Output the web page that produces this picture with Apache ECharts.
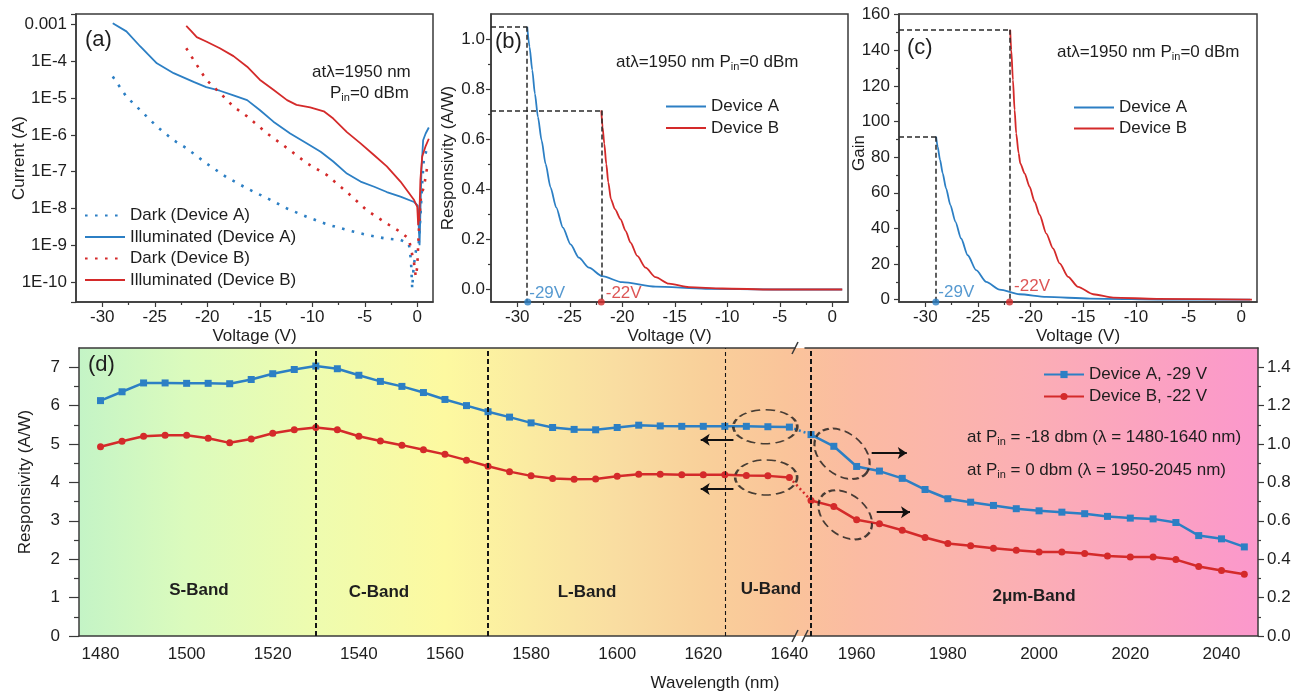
<!DOCTYPE html>
<html>
<head>
<meta charset="utf-8">
<title>Responsivity and gain</title>
<script src="https://cdn.jsdelivr.net/npm/echarts@6.0.0/dist/echarts.min.js"></script>
<style>
  html, body { margin: 0; padding: 0; background: #fff; }
  #chart { width: 1303px; height: 694px; }
</style>
</head>
<body>
<div id="chart"></div>
<script>
// (a) current vs voltage
const vDarkA = [-29.0, -27.7, -26.4, -24.8, -23.2, -22.0, -20.1, -18.2, -16.2, -14.3, -12.4, -10.5, -8.6, -6.7, -4.8, -2.9, -1.6, -0.8, -0.6, -0.48, -0.35, -0.1, 0.14, 0.3, 0.47, 0.62, 0.9];
const iDarkA = [3.9e-5, 1.1e-5, 4.8e-6, 1.7e-6, 7.2e-7, 4.4e-7, 1.7e-7, 7.2e-8, 3.5e-8, 1.9e-8, 1.0e-8, 5.9e-9, 3.7e-9, 2.6e-9, 1.9e-9, 1.5e-9, 1.4e-9, 1.1e-9, 4.0e-10, 6.6e-11, 2.5e-10, 7.9e-10, 1.1e-9, 5.9e-9, 4.9e-8, 2.1e-7, 4.0e-7];
const vIllumA = [-29.0, -27.7, -26.4, -24.8, -23.2, -21.3, -20.1, -18.8, -17.5, -16.2, -15.0, -13.7, -12.1, -10.5, -9.2, -8.0, -6.7, -5.4, -4.1, -2.9, -1.6, -0.3, 0.05, 0.15, 0.22, 0.3, 0.4, 0.56, 0.8, 1.1];
const iIllumA = [1.1e-3, 6.6e-4, 2.6e-4, 8.9e-5, 4.8e-5, 2.8e-5, 2.0e-5, 1.6e-5, 1.2e-5, 8.9e-6, 4.8e-6, 2.3e-6, 1.1e-6, 5.9e-7, 3.5e-7, 1.9e-7, 8.9e-8, 5.4e-8, 3.9e-8, 2.8e-8, 2.1e-8, 1.5e-8, 1.2e-8, 3.0e-9, 1.0e-9, 8.0e-9, 1.1e-7, 7.2e-7, 1.1e-6, 1.6e-6];
const vDarkB = [-22.0, -21.3, -20.1, -18.8, -17.5, -16.2, -14.3, -12.4, -10.5, -8.6, -6.7, -4.8, -2.9, -1.6, -0.8, -0.3, -0.14, 0.0, 0.15, 0.32, 0.48, 0.64, 0.96];
const iDarkB = [2.3e-4, 1.1e-4, 3.2e-5, 1.4e-5, 5.9e-6, 3.2e-6, 1.1e-6, 4.4e-7, 1.7e-7, 8.1e-8, 2.8e-8, 8.9e-9, 3.9e-9, 2.3e-9, 1.5e-9, 3.2e-10, 1.4e-10, 2.6e-10, 2.5e-9, 1.7e-8, 2.8e-8, 3.9e-8, 1.4e-7];
const vIllumB = [-22.0, -21.5, -21.0, -20.1, -18.8, -17.5, -16.2, -15.0, -13.7, -12.4, -11.5, -10.2, -8.9, -8.0, -6.7, -5.4, -4.1, -2.9, -1.6, -0.3, 0.0, 0.09, 0.2, 0.3, 0.47, 0.8, 1.1];
const iIllumB = [9.3e-4, 6.6e-4, 4.6e-4, 3.5e-4, 2.3e-4, 1.4e-4, 7.2e-5, 3.2e-5, 1.7e-5, 8.9e-6, 6.6e-6, 5.6e-6, 4.4e-6, 2.8e-6, 1.2e-6, 5.9e-7, 2.8e-7, 1.4e-7, 5.4e-8, 1.7e-8, 1.1e-8, 3.5e-9, 6.3e-9, 5.9e-8, 2.6e-7, 5.0e-7, 7.9e-7];

// (b) responsivity vs voltage
const vRespA = [-29.05, -28.83, -28.57, -28.32, -28.03, -27.68, -27.3, -26.83, -26.29, -25.65, -24.92, -24.13, -23.17, -21.9, -20.0, -16.83, -12.06, -5.71, 0.95];
const respA = [1.049, 0.969, 0.876, 0.782, 0.689, 0.595, 0.501, 0.408, 0.328, 0.247, 0.18, 0.127, 0.087, 0.053, 0.029, 0.011, 0.003, 0.0, 0.0];
const vRespB = [-22.0, -21.87, -21.71, -21.52, -21.33, -21.08, -20.7, -20.16, -19.68, -19.21, -18.57, -17.78, -16.83, -15.56, -13.65, -10.48, -5.71, 0.95];
const respB = [0.715, 0.648, 0.582, 0.501, 0.428, 0.361, 0.321, 0.281, 0.234, 0.187, 0.134, 0.087, 0.049, 0.023, 0.009, 0.004, 0.0, 0.0];

// (c) gain vs voltage
const vGainA = [-28.98, -28.83, -28.6, -28.35, -28.03, -27.62, -27.14, -26.6, -25.97, -25.17, -24.22, -22.95, -21.05, -18.51, -14.38, -6.44, 0.86];
const gainA = [91.5, 85.9, 78.4, 70.9, 62.5, 53.1, 43.7, 34.3, 24.9, 16.5, 9.9, 5.6, 3.0, 1.5, 0.6, 0, 0];
const vGainB = [-21.94, -21.84, -21.68, -21.52, -21.37, -21.14, -20.98, -20.57, -20.1, -19.62, -19.14, -18.51, -17.87, -17.24, -16.44, -15.49, -14.06, -12.16, -8.03, 1.02];
const gainB = [151.6, 140.3, 123.4, 106.5, 93.4, 82.2, 76.5, 70.9, 63.4, 55.0, 47.5, 37.1, 28.7, 20.3, 12.8, 7.1, 3.0, 1.1, 0.4, 0];

const bias = [-29, -22];

// (d) responsivity vs wavelength
const wlLeft = [1480, 1485, 1490, 1495, 1500, 1505, 1510, 1515, 1520, 1525, 1530, 1535, 1540, 1545, 1550, 1555, 1560, 1565, 1570, 1575, 1580, 1585, 1590, 1595, 1600, 1605, 1610, 1615, 1620, 1625, 1630, 1635, 1640];
const respALeft = [6.13, 6.36, 6.59, 6.59, 6.58, 6.58, 6.57, 6.68, 6.83, 6.94, 7.03, 6.96, 6.79, 6.63, 6.50, 6.34, 6.16, 6.00, 5.84, 5.70, 5.55, 5.43, 5.38, 5.37, 5.43, 5.49, 5.47, 5.46, 5.46, 5.46, 5.46, 5.45, 5.44];
const respBLeft = [4.93, 5.07, 5.20, 5.23, 5.23, 5.15, 5.03, 5.13, 5.28, 5.37, 5.43, 5.37, 5.20, 5.08, 4.97, 4.85, 4.73, 4.58, 4.42, 4.28, 4.17, 4.10, 4.08, 4.09, 4.16, 4.21, 4.21, 4.20, 4.20, 4.20, 4.18, 4.17, 4.13];
const wlRight = [1950, 1955, 1960, 1965, 1970, 1975, 1980, 1985, 1990, 1995, 2000, 2005, 2010, 2015, 2020, 2025, 2030, 2035, 2040, 2045];
const respARight = [1.049, 0.988, 0.883, 0.859, 0.821, 0.763, 0.715, 0.697, 0.680, 0.663, 0.652, 0.645, 0.637, 0.623, 0.614, 0.610, 0.591, 0.523, 0.506, 0.464];
const respBRight = [0.706, 0.675, 0.605, 0.584, 0.551, 0.513, 0.482, 0.470, 0.457, 0.447, 0.438, 0.437, 0.430, 0.417, 0.412, 0.412, 0.398, 0.362, 0.341, 0.322];
const bandEdges = [1530, 1570, 1625];
const bandNames = ['S-Band', 'C-Band', 'L-Band', 'U-Band', '2μm-Band'];

// tick values
const currentTicks = [1e-10, 1e-9, 1e-8, 1e-7, 1e-6, 1e-5, 1e-4, 1e-3];
const voltTicks = [-30, -25, -20, -15, -10, -5, 0];
const voltMinor = [-27.5, -22.5, -17.5, -12.5, -7.5, -2.5];
const respTicks = [0, 0.2, 0.4, 0.6, 0.8, 1.0];
const respMinor = [0.1, 0.3, 0.5, 0.7, 0.9];
const gainTicks = [0, 20, 40, 60, 80, 100, 120, 140, 160];
const gainMinor = [10, 30, 50, 70, 90, 110, 130, 150];
const wlTicksLeft = [1480, 1500, 1520, 1540, 1560, 1580, 1600, 1620, 1640];
const wlTicksRight = [1960, 1980, 2000, 2020, 2040];
const respDTicks = [0, 1, 2, 3, 4, 5, 6, 7];
const respDMinor = [0.5, 1.5, 2.5, 3.5, 4.5, 5.5, 6.5];
const respDRTicks = [0, 0.2, 0.4, 0.6, 0.8, 1.0, 1.2, 1.4];
const respDRMinor = [0.1, 0.3, 0.5, 0.7, 0.9, 1.1, 1.3];

const FONT = '"Liberation Sans", Arial, Helvetica, sans-serif';
const BLUE = '#2c7fc4';
const RED = '#d42a2a';
const INK = '#1e1e1e';
const FRAME = '#3a3a3a';

// plot boxes: left, top, width, height
const boxA = [76, 14, 357, 288];
const boxB = [491, 14, 357, 288];
const boxC = [899, 14, 358, 288];
const boxDL = [79, 348, 716, 288];
const boxDR = [805, 348, 453, 288];

function pairs(xs, ys) { return xs.map((x, i) => [x, ys[i]]); }

function grid(box, framed) {
  return {
    left: box[0], top: box[1], width: box[2], height: box[3],
    containLabel: false, outerBoundsMode: 'none',
    show: framed, borderColor: FRAME, borderWidth: framed ? 1.5 : 0, backgroundColor: 'transparent'
  };
}

function axis(gridIndex, min, max, ticks, o) {
  o = o || {};
  return {
    type: 'value', gridIndex, min, max, position: o.position,
    name: o.name, nameLocation: 'middle', nameGap: o.nameGap, nameMoveOverlap: false,
    nameTextStyle: { color: INK, fontSize: 17, fontFamily: FONT, padding: o.namePad || 0 },
    axisLine: { show: o.line !== false, onZero: false, lineStyle: { color: FRAME, width: 1.5 } },
    axisTick: { show: !!o.tickLen, customValues: ticks || undefined, length: o.tickLen || 0, lineStyle: { color: FRAME, width: 1.2 } },
    axisLabel: { show: o.labels !== false, customValues: ticks || undefined, margin: o.margin || 8, color: INK, fontSize: 17, fontFamily: FONT, formatter: o.fmt || (v => String(v)) },
    splitLine: { show: false }
  };
}

// minor ticks live on their own overlay grid so they can sit on the same side as the main axis
function minor(gridIndex, min, max, ticks, len, position) {
  return axis(gridIndex, min, max, ticks, { line: false, labels: false, tickLen: len, position });
}
function hidden(gridIndex) {
  return { type: 'value', gridIndex, min: 0, max: 1, show: false };
}

const fixed1 = v => v.toFixed(1);

function decadeLabel(v) {
  const hit = currentTicks.find(t => Math.abs(Math.log10(v) - Math.log10(t)) < 1e-6);
  if (hit === undefined) return '';
  const e = Math.round(Math.log10(hit));
  return e === -3 ? '0.001' : '1E' + e;
}

const xAxes = [
  axis(0, -32.5, 1.5, voltTicks, { name: 'Voltage (V)', nameGap: 26, tickLen: 5, margin: 7 }),
  axis(1, -32.5, 1.5, voltTicks, { name: 'Voltage (V)', nameGap: 26, tickLen: 5, margin: 7 }),
  axis(2, -32.5, 1.5, voltTicks, { name: 'Voltage (V)', nameGap: 26, tickLen: 5, margin: 7 }),
  axis(3, 1475, 1641.3, wlTicksLeft, { margin: 10, position: 'bottom' }),
  axis(3, 1475, 1641.3, null, { position: 'top', labels: false }),
  axis(4, 1948.68, 2048, wlTicksRight, { margin: 10, position: 'bottom' }),
  axis(4, 1948.68, 2048, null, { position: 'top', labels: false }),
  minor(5, -32.5, 1.5, voltMinor, 3, 'bottom'),
  minor(6, -32.5, 1.5, voltMinor, 3, 'bottom'),
  minor(7, -32.5, 1.5, voltMinor, 3, 'bottom'),
  hidden(8),
  hidden(9)
];

const yAxes = [
  {
    type: 'log', logBase: 10, gridIndex: 0, min: 2.85e-11, max: 1.96e-3,
    name: 'Current (A)', nameLocation: 'middle', nameGap: 48, nameMoveOverlap: false,
    nameTextStyle: { color: INK, fontSize: 17, fontFamily: FONT },
    axisLine: { show: true, onZero: false, lineStyle: { color: FRAME, width: 1.5 } },
    axisTick: { show: true, length: 5, lineStyle: { color: FRAME, width: 1.2 } },
    axisLabel: { margin: 9, color: INK, fontSize: 17, fontFamily: FONT, formatter: decadeLabel },
    splitLine: { show: false }
  },
  axis(1, -0.05, 1.1, respTicks, { name: 'Responsivity (A/W)', nameGap: 34, tickLen: 5, margin: 6, fmt: fixed1 }),
  axis(2, -1.35, 160.4, gainTicks, { name: 'Gain', nameGap: 31, namePad: [0, 0, 0, 10], tickLen: 5, margin: 9 }),
  axis(3, 0, 7.5, respDTicks, { name: 'Responsivity (A/W)', nameGap: 45, namePad: [0, 0, 0, 20], tickLen: 10, margin: 19, position: 'left' }),
  axis(4, 0, 1.5, respDRTicks, { position: 'right', tickLen: 6, margin: 9, fmt: fixed1 }),
  hidden(5),
  minor(6, -0.05, 1.1, respMinor, 3, 'left'),
  minor(7, -1.35, 160.4, gainMinor, 3, 'left'),
  minor(8, 0, 7.5, respDMinor, 5, 'left'),
  minor(9, 0, 1.5, respDRMinor, 3, 'right')
];

function curve(name, xi, yi, data, color, style) {
  return {
    name, type: 'line', xAxisIndex: xi, yAxisIndex: yi, data,
    symbol: 'none', silent: true, smooth: style === 'smooth' ? 0.25 : false, smoothMonotone: 'x',
    itemStyle: { color },
    lineStyle: style === 'dots'
      ? { color, width: 2.6, type: [2.6, 7.4] }
      : { color, width: 1.8 }
  };
}

function guides(xData, yData, xMin, yMin) {
  const x0 = xData[0], y0 = yData[0];
  return {
    silent: true, symbol: 'none', label: { show: false }, animation: false,
    lineStyle: { color: '#2a2a2a', type: [5, 3], width: 1.5 },
    data: [
      [{ coord: [xMin, y0] }, { coord: [x0, y0] }],
      [{ coord: [x0, y0] }, { coord: [x0, yMin] }]
    ]
  };
}

function biasDots(xi, yi, yMin, offsets) {
  return {
    type: 'scatter', xAxisIndex: xi, yAxisIndex: yi, clip: false, silent: true, symbolSize: 7, z: 5,
    data: bias.map((v, i) => ({
      value: [v, yMin],
      itemStyle: { color: i ? RED : BLUE },
      label: {
        show: true, position: 'right', distance: 0, offset: offsets[i], formatter: v + 'V',
        color: i ? RED : BLUE, fontSize: 17, fontFamily: FONT
      }
    }))
  };
}

function legendAt(left, top, names, gap, plainLine) {
  const lg = {
    data: names, left, top, orient: 'vertical', padding: 0, itemGap: gap,
    itemWidth: 40, itemHeight: 9, selectedMode: false,
    textStyle: { color: INK, fontSize: 17, fontFamily: FONT }
  };
  if (plainLine) lg.itemStyle = { color: 'transparent', borderColor: 'transparent', borderWidth: 0 };
  return lg;
}

const ellipseStyle = { color: 'transparent', borderColor: '#1a1a1a', borderWidth: 2, borderType: [7, 4] };

const seriesA = [
  curve('Dark (Device A)', 0, 0, pairs(vDarkA, iDarkA), BLUE, 'dots'),
  curve('Illuminated (Device A)', 0, 0, pairs(vIllumA, iIllumA), BLUE, 'solid'),
  curve('Dark (Device B)', 0, 0, pairs(vDarkB, iDarkB), RED, 'dots'),
  curve('Illuminated (Device B)', 0, 0, pairs(vIllumB, iIllumB), RED, 'solid')
];

const respAB = curve('Device A', 1, 1, pairs(vRespA, respA), BLUE, 'smooth');
respAB.markLine = guides(vRespA, respA, -32.5, -0.05);
const respBB = curve('Device B', 1, 1, pairs(vRespB, respB), RED, 'smooth');
respBB.markLine = guides(vRespB, respB, -32.5, -0.05);

const gainAC = curve('Device A', 2, 2, pairs(vGainA, gainA), BLUE, 'smooth');
gainAC.markLine = guides(vGainA, gainA, -32.5, -1.35);
const gainBC = curve('Device B', 2, 2, pairs(vGainB, gainB), RED, 'smooth');
gainBC.markLine = guides(vGainB, gainB, -32.5, -1.35);

function markerLine(name, xi, yi, data, color, symbol) {
  return {
    name, type: 'line', xAxisIndex: xi, yAxisIndex: yi, data, silent: true,
    symbol, symbolSize: 7, showSymbol: true, z: 4,
    itemStyle: { color },
    lineStyle: { color, width: 2.5 }
  };
}

const dA = markerLine('Device A, -29 V', 3, 3, pairs(wlLeft, respALeft), BLUE, 'rect');
dA.markLine = {
  silent: true, symbol: 'none', label: { show: false }, animation: false,
  lineStyle: { color: '#151515', type: [5, 3], width: 2 },
  data: bandEdges.map((v, i) => i === 2
    ? { xAxis: v, lineStyle: { width: 1.1, type: [4, 3] } }
    : { xAxis: v })
};
const dB = markerLine('Device B, -22 V', 3, 3, pairs(wlLeft, respBLeft), RED, 'circle');
dB.markLine = {
  silent: true, label: { show: false }, animation: false, symbol: ['none', 'arrow'], symbolSize: 9,
  lineStyle: { color: '#111', type: 'solid', width: 2 },
  data: [
    [{ coord: [1627, 5.11] }, { coord: [1619.4, 5.11] }],
    [{ coord: [1627, 3.83] }, { coord: [1619.4, 3.83] }]
  ]
};
const dAR = markerLine('Device A, -29 V', 5, 4, pairs(wlRight, respARight), BLUE, 'rect');
dAR.markLine = {
  silent: true, symbol: 'none', label: { show: false }, animation: false,
  lineStyle: { color: '#151515', type: [5, 3], width: 2 },
  data: [{ xAxis: wlRight[0] }]
};
const dBR = markerLine('Device B, -22 V', 5, 4, pairs(wlRight, respBRight), RED, 'circle');
dBR.markLine = {
  silent: true, label: { show: false }, animation: false, symbol: ['none', 'arrow'], symbolSize: 9,
  lineStyle: { color: '#111', type: 'solid', width: 2 },
  data: [
    [{ coord: [1963.3, 0.953] }, { coord: [1971, 0.953] }],
    [{ coord: [1964.4, 0.645] }, { coord: [1971.7, 0.645] }]
  ]
};

const ringsLeft = {
  type: 'scatter', xAxisIndex: 3, yAxisIndex: 3, silent: true, z: 6, symbol: 'circle',
  itemStyle: ellipseStyle,
  data: [
    { value: [1634.4, 5.45], symbolSize: [64, 34] },
    { value: [1634.6, 4.13], symbolSize: [62, 35] }
  ]
};
const ringsRight = {
  type: 'scatter', xAxisIndex: 5, yAxisIndex: 4, silent: true, z: 6, symbol: 'circle',
  itemStyle: ellipseStyle,
  data: [
    { value: [1956.8, 0.949], symbolSize: [62, 42], symbolRotate: -38 },
    { value: [1957.5, 0.631], symbolSize: [60, 41], symbolRotate: -38 }
  ]
};

const option = {
  animation: false,
  backgroundColor: '#fff',
  textStyle: { fontFamily: FONT },
  grid: [
    grid(boxA, true), grid(boxB, true), grid(boxC, true), grid(boxDL, false), grid(boxDR, false),
    grid(boxA, false), grid(boxB, false), grid(boxC, false), grid(boxDL, false), grid(boxDR, false)
  ],
  xAxis: xAxes,
  yAxis: yAxes,
  legend: [
    legendAt(84, 207, ['Dark (Device A)', 'Illuminated (Device A)', 'Dark (Device B)', 'Illuminated (Device B)'], 4.5, true),
    legendAt(665, 98, ['Device A', 'Device B'], 4.5, true),
    legendAt(1073, 99, ['Device A', 'Device B'], 4, true),
    legendAt(1043, 366, ['Device A, -29 V', 'Device B, -22 V'], 5, false)
  ],
  series: [
    ...seriesA,
    respAB, respBB, biasDots(1, 1, -0.05, [[-2, -9], [1, -9]]),
    gainAC, gainBC, biasDots(2, 2, -1.35, [[-1, -10], [1, -16]]),
    dA, dB, dAR, dBR, ringsLeft, ringsRight
  ]
};

const chart = echarts.init(document.getElementById('chart'));
chart.setOption(option);

// annotations
const sub = { sub: { fontSize: 11, fontFamily: FONT, fill: INK, verticalAlign: 'bottom', lineHeight: 10 } };
function note(text, x, y, o) {
  o = o || {};
  return {
    type: 'text', x, y, silent: true, z: 10,
    style: {
      text, fill: INK, fontSize: o.size || 17, fontFamily: FONT, fontWeight: o.bold ? 'bold' : 'normal',
      align: o.align || 'left', verticalAlign: 'middle', lineHeight: 20, rich: sub
    }
  };
}

const px = (xi, yi, pt) => chart.convertToPixel({ xAxisIndex: xi, yAxisIndex: yi }, pt);
const nL = wlLeft.length - 1;
const linkA = [px(3, 3, [wlLeft[nL], respALeft[nL]]), px(5, 4, [wlRight[0], respARight[0]])];
const linkB = [px(3, 3, [wlLeft[nL], respBLeft[nL]]), px(5, 4, [wlRight[0], respBRight[0]])];

function dotted(p, color) {
  return {
    type: 'line', silent: true, z: 3,
    shape: { x1: p[0][0], y1: p[0][1], x2: p[1][0], y2: p[1][1] },
    style: { stroke: color, lineWidth: 2.5, lineDash: [2, 3] }
  };
}

function slash(x, y) {
  return {
    type: 'line', silent: true, z: 10,
    shape: { x1: x - 3, y1: y + 6, x2: x + 3, y2: y - 6 },
    style: { stroke: FRAME, lineWidth: 1.5 }
  };
}

const dTop = boxDL[1], dBottom = boxDL[1] + boxDL[3];
const dLeft = boxDL[0], dRight = boxDR[0] + boxDR[2];

const graphics = [
  {
    type: 'rect', silent: true, z: -10,
    shape: { x: dLeft, y: dTop, width: dRight - dLeft, height: boxDL[3] },
    style: {
      fill: new echarts.graphic.LinearGradient(0, 0, 1, 0, [
        { offset: 0, color: '#c4f4c6' },
        { offset: 0.09, color: '#dbfbbd' },
        { offset: 0.2, color: '#eefcaf' },
        { offset: 0.31, color: '#fdf9a0' },
        { offset: 0.38, color: '#fbeba1' },
        { offset: 0.456, color: '#f9dda1' },
        { offset: 0.53, color: '#f9d09a' },
        { offset: 0.6, color: '#fac49a' },
        { offset: 0.66, color: '#fbbba2' },
        { offset: 0.81, color: '#fbaeb5' },
        { offset: 0.97, color: '#fb9bc8' },
        { offset: 1, color: '#fb98cc' }
      ])
    }
  },
  dotted(linkA, BLUE),
  dotted(linkB, RED),
  slash(boxDL[0] + boxDL[2], dBottom),
  slash(boxDR[0], dBottom),
  slash(boxDL[0] + boxDL[2], dTop),
  note('(a)', 85, 40, { size: 22 }),
  note('atλ=1950 nm', 312, 72),
  note('P{sub|in}=0 dBm', 330, 93),
  note('(b)', 495, 42, { size: 22 }),
  note('atλ=1950 nm P{sub|in}=0 dBm', 616, 62),
  note('(c)', 907, 48, { size: 22 }),
  note('atλ=1950 nm P{sub|in}=0 dBm', 1057, 52),
  note('(d)', 88, 365, { size: 22 }),
  note(bandNames[0], 199, 590, { bold: true, align: 'center' }),
  note(bandNames[1], 379, 592, { bold: true, align: 'center' }),
  note(bandNames[2], 587, 592, { bold: true, align: 'center' }),
  note(bandNames[3], 771, 589, { bold: true, align: 'center' }),
  note(bandNames[4], 1034, 596, { bold: true, align: 'center' }),
  note('at P{sub|in} = -18 dbm (λ = 1480-1640 nm)', 967, 437),
  note('at P{sub|in} = 0 dbm (λ = 1950-2045 nm)', 967, 470),
  note('Wavelength (nm)', 715, 683, { align: 'center' })
];

chart.setOption({ graphic: graphics });
</script>
</body>
</html>
